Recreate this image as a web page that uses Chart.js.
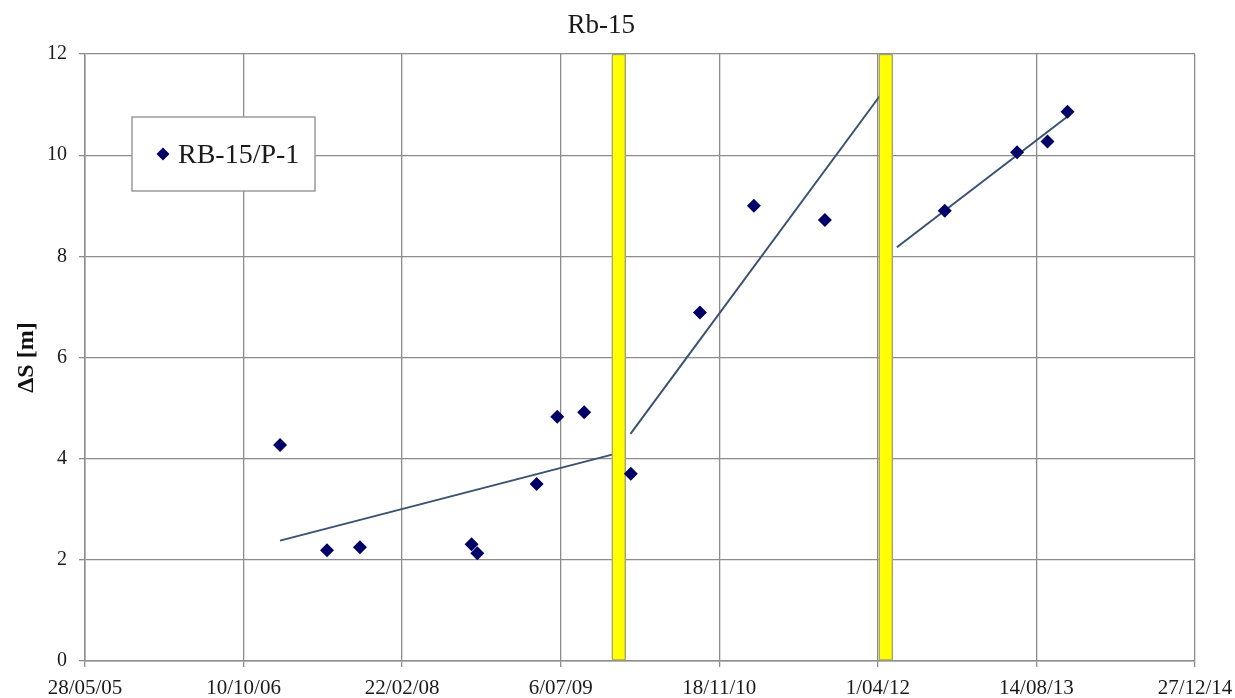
<!DOCTYPE html>
<html>
<head>
<meta charset="utf-8">
<script src="https://cdn.jsdelivr.net/npm/chart.js@4.4.1/dist/chart.umd.min.js"></script>
<style>
  html, body { margin: 0; padding: 0; background: #ffffff; }
  #wrap { width: 1235px; height: 698px; }
</style>
</head>
<body>
<div id="wrap"><canvas id="c" width="1235" height="698"></canvas></div>
<script>
// ---- chart values ----
const chartTitle = 'Rb-15';
const seriesLabel = 'RB-15/P-1';
const yAxisTitle = 'ΔS [m]';

// piezometer readings
const obsDates = [
  '2007-02-02', '2007-06-30', '2007-10-12', '2008-09-28', '2008-10-16',
  '2009-04-21', '2009-06-25', '2009-09-18', '2010-02-12', '2010-09-18',
  '2011-03-07', '2011-10-17', '2012-10-29', '2013-06-14', '2013-09-18',
  '2013-11-20'
];
const obsValues = [
  4.27, 2.19, 2.25, 2.31, 2.13,
  3.50, 4.83, 4.92, 3.70, 6.89,
  9.00, 8.72, 8.90, 10.06, 10.27,
  10.86
];

// linear trends for each period (start / end)
const trend1Dates = ['2007-02-02', '2009-12-15'];
const trend1Values = [2.38, 4.08];
const trend2Dates = ['2010-02-11', '2012-04-07'];
const trend2Values = [4.49, 11.17];
const trend3Dates = ['2012-05-31', '2013-11-17'];
const trend3Values = [8.18, 10.75];

// event markers (full-height yellow bands)
const eventDates = ['2010-01-05', '2012-04-26'];
const eventRange = [0, 12];

// axes
const yMin = 0, yMax = 12, yStep = 2;
const xFirstTick = '2005-05-28';
const xLastTick = '2014-12-27';
const xTickStepDays = 500;

// ---- helpers ----
const DAY = 86400000;
const EPOCH = Date.UTC(1899, 11, 30);
function toSerial(s) {
  const [y, m, d] = s.split('-').map(Number);
  return Math.round((Date.UTC(y, m - 1, d) - EPOCH) / DAY);
}
function fmtSerial(v) {
  const dt = new Date(EPOCH + v * DAY);
  const d = dt.getUTCDate();
  const m = String(dt.getUTCMonth() + 1).padStart(2, '0');
  const y = String(dt.getUTCFullYear() % 100).padStart(2, '0');
  return d + '/' + m + '/' + y;
}
const pts = (dates, vals) => dates.map((d, i) => ({ x: toSerial(d), y: vals[i] }));

const FONT = "'Liberation Serif', 'Times New Roman', serif";
const GRID = '#8c8c8c';
const MARK = '#000066';
const TREND = '#3a5272';

// ---- title and legend drawn on the canvas ----
const titlePlugin = {
  id: 'plotTitle',
  afterDraw(chart) {
    const { ctx, chartArea } = chart;
    ctx.save();
    ctx.font = '27px ' + FONT;
    ctx.fillStyle = '#1a1a1a';
    ctx.textAlign = 'center';
    ctx.textBaseline = 'alphabetic';
    ctx.fillText(chartTitle, chartArea.left + chartArea.width * 0.465, chartArea.top - 21);
    ctx.restore();
  }
};

const legendPlugin = {
  id: 'boxLegend',
  afterDraw(chart) {
    const { ctx, chartArea } = chart;
    const x = chartArea.left + 47, y = chartArea.top + 63, w = 183, h = 74;
    ctx.save();
    ctx.fillStyle = '#ffffff';
    ctx.fillRect(x, y, w, h);
    ctx.strokeStyle = '#9a9a9a';
    ctx.lineWidth = 1.5;
    ctx.strokeRect(x, y, w, h);
    const mx = x + 31, my = y + 37, r = 6.5;
    ctx.fillStyle = MARK;
    ctx.beginPath();
    ctx.moveTo(mx - r, my);
    ctx.lineTo(mx, my - r);
    ctx.lineTo(mx + r, my);
    ctx.lineTo(mx, my + r);
    ctx.closePath();
    ctx.fill();
    ctx.font = '28px ' + FONT;
    ctx.fillStyle = '#1a1a1a';
    ctx.textAlign = 'left';
    ctx.textBaseline = 'alphabetic';
    ctx.fillText(seriesLabel, x + 46, y + 46);
    ctx.restore();
  }
};

const trendStyle = {
  type: 'line',
  showLine: true,
  pointRadius: 0,
  pointHoverRadius: 0,
  borderColor: TREND,
  borderWidth: 2,
  fill: false,
  order: 3
};

new Chart(document.getElementById('c'), {
  type: 'scatter',
  data: {
    datasets: [
      {
        label: seriesLabel,
        data: pts(obsDates, obsValues),
        pointStyle: 'rectRot',
        pointRadius: 7,
        backgroundColor: MARK,
        borderColor: MARK,
        borderWidth: 0,
        order: 1
      },
      {
        type: 'bar',
        label: 'events',
        data: eventDates.map(d => ({ x: toSerial(d), y: eventRange.slice() })),
        backgroundColor: '#ffff00',
        borderColor: '#a4a46e',
        borderWidth: 1.5,
        borderSkipped: false,
        borderRadius: 2,
        barThickness: 14,
        order: 2
      },
      Object.assign({ label: 'trend1', data: pts(trend1Dates, trend1Values) }, trendStyle),
      Object.assign({ label: 'trend2', data: pts(trend2Dates, trend2Values) }, trendStyle),
      Object.assign({ label: 'trend3', data: pts(trend3Dates, trend3Values) }, trendStyle)
    ]
  },
  options: {
    responsive: false,
    animation: false,
    events: [],
    layout: { padding: { top: 54, right: 40, left: 0, bottom: 0 } },
    plugins: {
      legend: { display: false },
      title: { display: false },
      tooltip: { enabled: false }
    },
    scales: {
      x: {
        type: 'linear',
        offset: false,
        min: toSerial(xFirstTick),
        max: toSerial(xLastTick),
        grid: { color: GRID, lineWidth: 1.3, tickLength: 6, offset: false, drawTicks: true, tickColor: GRID },
        border: { display: true, color: GRID, width: 1.5 },
        ticks: {
          stepSize: xTickStepDays,
          autoSkip: false,
          maxRotation: 0,
          padding: 9,
          color: '#1a1a1a',
          font: { family: FONT, size: 21 },
          callback: v => fmtSerial(v)
        },
        afterFit(s) { s.height = 37; s.paddingLeft = 0; s.paddingRight = 0; }
      },
      y: {
        type: 'linear',
        min: yMin,
        max: yMax,
        grid: { color: GRID, lineWidth: 1.3, tickLength: 6, drawTicks: true, tickColor: GRID },
        border: { display: true, color: GRID, width: 1.5 },
        ticks: {
          stepSize: yStep,
          padding: 12,
          color: '#1a1a1a',
          font: { family: FONT, size: 20 }
        },
        title: {
          display: true,
          text: yAxisTitle,
          color: '#111111',
          font: { family: FONT, size: 24, weight: 'bold' },
          padding: { top: 12, bottom: 0 }
        },
        afterFit(s) { s.width = 85; s.paddingTop = 0; s.paddingBottom = 0; }
      }
    }
  },
  plugins: [titlePlugin, legendPlugin]
});
</script>
</body>
</html>
